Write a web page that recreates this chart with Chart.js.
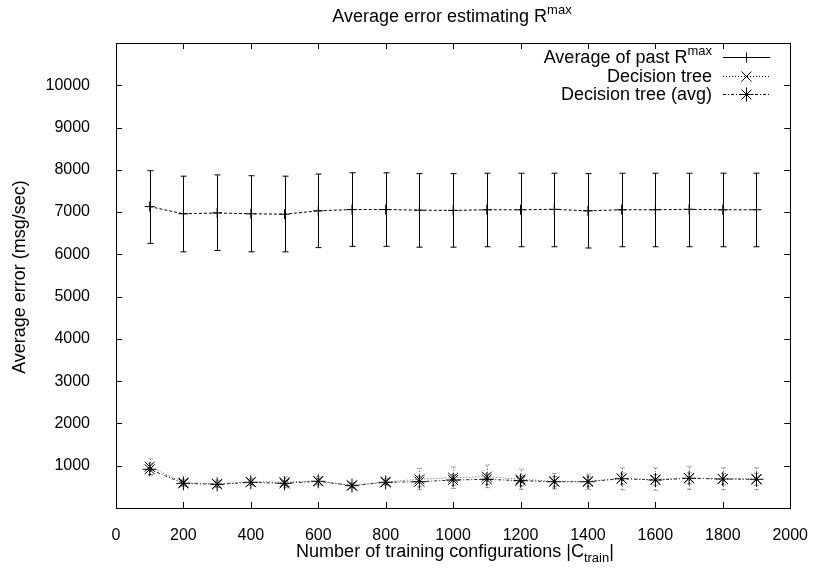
<!DOCTYPE html>
<html>
<head>
<meta charset="utf-8">
<script src="https://cdn.jsdelivr.net/npm/chart.js@4.4.1/dist/chart.umd.min.js"></script>
<style>
html, body { margin: 0; padding: 0; background: #fff; }
</style>
</head>
<body>
<canvas id="chart" width="818" height="569"></canvas>
<script>
const FONT = '"Liberation Sans", Arial, Helvetica, sans-serif';

// number of training configurations
const sizes = [100, 200, 300, 400, 500, 600, 700, 800, 900, 1000, 1100, 1200, 1300, 1400, 1500, 1600, 1700, 1800, 1900];

// Average of past R^max
const pastMean = [7130, 6960, 6980, 6960, 6950, 7030, 7060, 7060, 7045, 7040, 7055, 7055, 7065, 7030, 7055, 7055, 7065, 7055, 7055];
const pastLow  = [6260, 6060, 6090, 6060, 6060, 6160, 6190, 6190, 6170, 6170, 6180, 6180, 6180, 6150, 6180, 6180, 6180, 6180, 6180];
const pastHigh = [7980, 7850, 7880, 7860, 7850, 7900, 7930, 7930, 7910, 7910, 7920, 7920, 7920, 7910, 7920, 7920, 7920, 7920, 7920];

// Decision tree
const treeMean = [977, 600, 570, 615, 610, 640, 535, 620, 679, 717, 741, 679, 630, 630, 700, 670, 710, 690, 685];
const treeLow  = [780, 520, 490, 540, 480, 540, 470, 540, 430, 460, 480, 440, 450, 440, 430, 420, 440, 430, 430];
const treeHigh = [1175, 680, 660, 700, 740, 740, 600, 700, 940, 970, 1020, 920, 820, 800, 950, 950, 980, 950, 950];

// Decision tree (avg)
const avgMean = [915, 584, 560, 608, 584, 632, 528, 608, 622, 662, 679, 646, 622, 622, 694, 662, 702, 686, 679];
const avgLow  = [790, 520, 500, 550, 520, 570, 480, 550, 500, 540, 550, 520, 500, 500, 560, 540, 570, 550, 540];
const avgHigh = [1050, 650, 620, 670, 650, 700, 580, 670, 750, 790, 810, 770, 740, 740, 830, 790, 830, 820, 820];

const xTicks = [0, 200, 400, 600, 800, 1000, 1200, 1400, 1600, 1800, 2000];
const yTicks = [1000, 2000, 3000, 4000, 5000, 6000, 7000, 8000, 9000, 10000];

const pts = arr => arr.map((v, i) => ({ x: sizes[i], y: v }));

const errorBars = [
  { low: pastLow, high: pastHigh, color: "#000", dash: [], cap: 3 },
  { low: treeLow, high: treeHigh, color: "#444", dash: [1, 2], cap: 2 },
  { low: avgLow, high: avgHigh, color: "#222", dash: [1, 2], cap: 2 }
];

function marker(ctx, style, x, y, r) {
  ctx.beginPath();
  if (style === "cross" || style === "star") {
    ctx.moveTo(x - r, y); ctx.lineTo(x + r, y);
    ctx.moveTo(x, y - r); ctx.lineTo(x, y + r);
  }
  if (style === "crossRot" || style === "star") {
    const d = r * Math.SQRT1_2;
    ctx.moveTo(x - d, y - d); ctx.lineTo(x + d, y + d);
    ctx.moveTo(x - d, y + d); ctx.lineTo(x + d, y - d);
  }
  ctx.stroke();
}

// text with a raised or lowered part: parts = [[text, "sup"|"sub"|""], ...]
function richText(ctx, parts, x, y, size, align) {
  const small = Math.round(size * 0.72);
  let w = 0;
  parts.forEach(p => {
    ctx.font = (p[1] ? small : size) + "px " + FONT;
    w += ctx.measureText(p[0]).width;
  });
  let cx = align === "right" ? x - w : align === "center" ? x - w / 2 : x;
  ctx.textAlign = "left";
  ctx.textBaseline = "alphabetic";
  parts.forEach(p => {
    ctx.font = (p[1] ? small : size) + "px " + FONT;
    const dy = p[1] === "sup" ? -size * 0.42 : p[1] === "sub" ? size * 0.25 : 0;
    ctx.fillText(p[0], cx, y + dy);
    cx += ctx.measureText(p[0]).width;
  });
}

const framePlugin = {
  id: "frame",
  beforeDatasetsDraw(chart) {
    const ctx = chart.ctx;
    const xs = chart.scales.x, ys = chart.scales.y;
    ctx.save();
    ctx.lineWidth = 1;
    errorBars.forEach(eb => {
      ctx.strokeStyle = eb.color;
      ctx.setLineDash(eb.dash);
      sizes.forEach((s, i) => {
        const px = Math.round(xs.getPixelForValue(s)) + 0.5;
        const lo = ys.getPixelForValue(eb.low[i]);
        const hi = ys.getPixelForValue(eb.high[i]);
        ctx.beginPath();
        ctx.moveTo(px, lo); ctx.lineTo(px, hi);
        ctx.moveTo(px - eb.cap, lo); ctx.lineTo(px + eb.cap, lo);
        ctx.moveTo(px - eb.cap, hi); ctx.lineTo(px + eb.cap, hi);
        ctx.stroke();
      });
    });
    ctx.restore();
  },
  afterDraw(chart) {
    const ctx = chart.ctx;
    const a = chart.chartArea;
    const xs = chart.scales.x, ys = chart.scales.y;
    ctx.save();
    ctx.strokeStyle = "#000";
    ctx.lineWidth = 1;
    ctx.setLineDash([]);
    // border
    ctx.strokeRect(Math.round(a.left) + 0.5, Math.round(a.top) + 0.5,
      Math.round(a.right - a.left), Math.round(a.bottom - a.top));
    // inward ticks, mirrored
    const t = 6;
    ctx.beginPath();
    xTicks.forEach(v => {
      const px = Math.round(xs.getPixelForValue(v)) + 0.5;
      ctx.moveTo(px, a.bottom); ctx.lineTo(px, a.bottom - t);
      ctx.moveTo(px, a.top); ctx.lineTo(px, a.top + t);
    });
    yTicks.forEach(v => {
      const py = Math.round(ys.getPixelForValue(v)) + 0.5;
      ctx.moveTo(a.left, py); ctx.lineTo(a.left + t, py);
      ctx.moveTo(a.right, py); ctx.lineTo(a.right - t, py);
    });
    ctx.stroke();

    ctx.fillStyle = "#000";
    // title
    richText(ctx, [["Average error estimating R", ""], ["max", "sup"]], 452, 22, 18, "center");
    // x axis title
    richText(ctx, [["Number of training configurations |C", ""], ["train", "sub"], ["|", ""]], 455, 557, 18, "center");
    // y axis title
    ctx.save();
    ctx.translate(25, 277);
    ctx.rotate(-Math.PI / 2);
    richText(ctx, [["Average error (msg/sec)", ""]], 0, 0, 18, "center");
    ctx.restore();

    // legend
    const rows = [
      { parts: [["Average of past R", ""], ["max", "sup"]], dash: [], style: "cross", r: 5 },
      { parts: [["Decision tree", ""]], dash: [1, 2], style: "crossRot", r: 7 },
      { parts: [["Decision tree (avg)", ""]], dash: [3, 2, 1, 2], style: "star", r: 7 }
    ];
    rows.forEach((row, i) => {
      const y = 57 + i * 18.5;
      richText(ctx, row.parts, 712, y + 6, 18, "right");
      ctx.setLineDash(row.dash);
      ctx.beginPath();
      ctx.moveTo(723, Math.round(y) + 0.5); ctx.lineTo(770, Math.round(y) + 0.5);
      ctx.stroke();
      ctx.setLineDash([]);
      marker(ctx, row.style, 746.5, Math.round(y) + 0.5, row.r);
    });
    ctx.restore();
  }
};

const plainTick = v => String(v);

new Chart(document.getElementById("chart"), {
  type: "line",
  data: {
    datasets: [
      {
        label: "Average of past R^max",
        data: pts(pastMean),
        borderColor: "#000",
        borderWidth: 1,
        borderDash: [3, 2],
        pointStyle: "cross",
        pointRadius: 5,
        pointBorderColor: "#000",
        pointBorderWidth: 1
      },
      {
        label: "Decision tree",
        data: pts(treeMean),
        borderColor: "#555",
        borderWidth: 1,
        borderDash: [1, 2],
        pointStyle: "crossRot",
        pointRadius: 7,
        pointBorderColor: "#000",
        pointBorderWidth: 1
      },
      {
        label: "Decision tree (avg)",
        data: pts(avgMean),
        borderColor: "#222",
        borderWidth: 1,
        borderDash: [3, 2, 1, 2],
        pointStyle: "star",
        pointRadius: 7,
        pointBorderColor: "#000",
        pointBorderWidth: 1
      }
    ]
  },
  options: {
    responsive: false,
    animation: false,
    events: [],
    layout: { padding: { left: 0, right: 26, top: 43, bottom: 0 } },
    plugins: {
      legend: { display: false },
      title: { display: false },
      tooltip: { enabled: false }
    },
    scales: {
      x: {
        type: "linear",
        min: 0,
        max: 2000,
        afterFit: s => { s.height = 61; },
        afterBuildTicks: s => { s.ticks = xTicks.map(v => ({ value: v })); },
        grid: { display: false },
        border: { display: false },
        ticks: { color: "#000", padding: 10, maxRotation: 0, callback: plainTick, font: { family: FONT, size: 16 } }
      },
      y: {
        min: 0,
        max: 11000,
        afterFit: s => { s.width = 116; },
        afterBuildTicks: s => { s.ticks = yTicks.map(v => ({ value: v })); },
        grid: { display: false },
        border: { display: false },
        ticks: { color: "#000", padding: 18, callback: plainTick, font: { family: FONT, size: 16 } }
      }
    }
  },
  plugins: [framePlugin]
});
</script>
</body>
</html>
